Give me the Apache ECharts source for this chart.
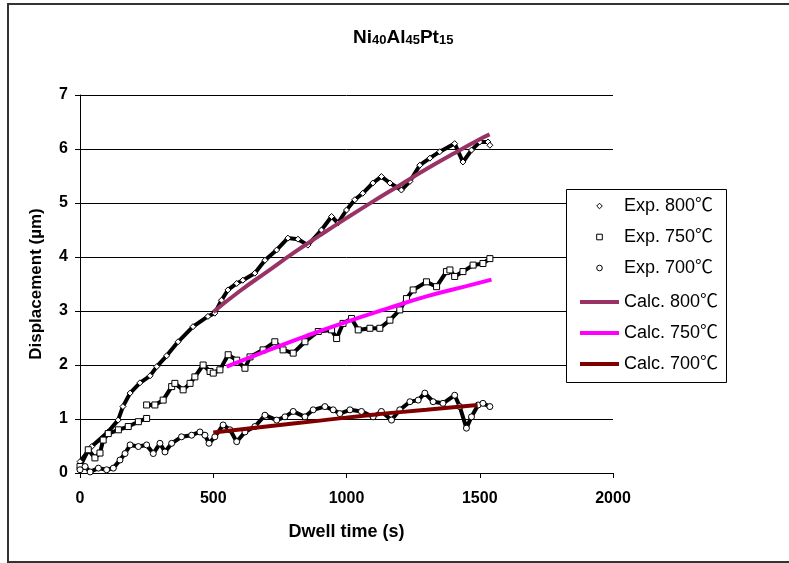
<!DOCTYPE html>
<html>
<head>
<meta charset="utf-8">
<script src="https://cdn.jsdelivr.net/npm/echarts@6/dist/echarts.min.js"></script>
<style>html,body{margin:0;padding:0;background:#fff}#chart{width:789px;height:563px}</style>
</head>
<body>
<div id="chart"></div>
<script>
// dwell time (s) / displacement (um)
var exp800T = [0,44,105,143,161,188,225,263,288,325,368,424,480,506,531,555,588,611,656,694,738,780,818,855,906,944,968,1000,1031,1061,1099,1131,1163,1206,1238,1275,1313,1350,1406,1437,1469,1500,1531,1538];
var exp800V = [0.21,0.49,0.76,0.98,1.23,1.48,1.67,1.80,1.97,2.17,2.43,2.71,2.90,2.96,3.20,3.39,3.51,3.57,3.70,3.94,4.13,4.35,4.33,4.22,4.50,4.75,4.63,4.87,5.06,5.18,5.37,5.49,5.37,5.24,5.40,5.70,5.83,5.95,6.10,5.76,5.98,6.13,6.13,6.07];

// 750 has two pieces (jump near 250 s)
var exp750aT = [0,31,56,75,87,106,144,181,219,250];
var exp750aV = [0.12,0.43,0.28,0.37,0.61,0.73,0.80,0.86,0.95,1.01];
var exp750bT = [250,281,312,344,356,387,413,431,462,488,500,525,556,588,619,638,687,731,762,800,844,894,944,963,987,1019,1044,1088,1125,1163,1200,1225,1250,1300,1338,1375,1388,1406,1437,1475,1512,1538];
var exp750bV = [1.26,1.26,1.35,1.60,1.66,1.54,1.66,1.78,2.00,1.88,1.85,1.91,2.19,2.09,1.94,2.15,2.28,2.43,2.28,2.22,2.43,2.62,2.65,2.49,2.77,2.86,2.65,2.68,2.68,2.83,3.02,3.23,3.39,3.54,3.45,3.73,3.76,3.64,3.73,3.85,3.88,3.97];

var exp700T = [0,19,38,69,100,125,150,169,188,219,250,275,300,319,344,381,419,450,469,484,506,537,563,588,619,656,694,738,769,800,844,875,919,950,975,1013,1056,1100,1131,1169,1200,1238,1269,1294,1325,1362,1406,1425,1450,1469,1494,1512,1538];
var exp700V = [0.06,0.12,0.02,0.09,0.06,0.09,0.24,0.36,0.52,0.49,0.52,0.36,0.55,0.39,0.55,0.67,0.70,0.76,0.70,0.55,0.67,0.89,0.80,0.58,0.76,0.86,1.07,0.98,1.04,1.14,1.04,1.17,1.23,1.17,1.10,1.17,1.14,1.04,1.14,0.98,1.17,1.32,1.35,1.48,1.32,1.29,1.44,1.23,0.83,1.04,1.26,1.29,1.23];

var calc800T = [500,600,700,800,900,1000,1100,1200,1300,1400,1500,1537];
var calc800V = [2.98,3.37,3.72,4.07,4.40,4.72,5.03,5.33,5.63,5.91,6.18,6.27];
var calc750T = [550,700,850,1000,1150,1300,1450,1544];
var calc750V = [1.97,2.26,2.54,2.80,3.04,3.27,3.46,3.58];
var calc700T = [500,700,900,1100,1300,1492];
var calc700V = [0.75,0.86,0.97,1.08,1.17,1.26];

var font = 'Liberation Sans, Arial, sans-serif';
var legendFont = 'Liberation Sans, Noto Sans CJK SC, sans-serif';

function pairs(t, v) {
  return t.map(function (x, i) { return [x, v[i]]; });
}

var exp750 = pairs(exp750aT, exp750aV).concat([[250, '-']], pairs(exp750bT, exp750bV));

function expSeries(name, symbol, data) {
  return {
    name: name, type: 'line', data: data,
    symbol: symbol, symbolSize: 6, showAllSymbol: true,
    itemStyle: { color: '#fff', borderColor: '#000', borderWidth: 1 },
    lineStyle: { color: '#000', width: 4 },
    z: 3
  };
}
function calcSeries(name, color, data) {
  return {
    name: name, type: 'line', data: data, smooth: true, symbol: 'none',
    itemStyle: { color: color },
    lineStyle: { color: color, width: 4 },
    z: 4
  };
}

var myChart = echarts.init(document.getElementById('chart'));
var option = {
  animation: false,
  backgroundColor: '#fff',
  title: {
    text: '{b|Ni}{s|40}{b|Al}{s|45}{b|Pt}{s|15}',
    left: 353, top: 25, padding: 0,
    textStyle: {
      rich: {
        b: { fontSize: 19, fontWeight: 'bold', fontFamily: font, color: '#000', lineHeight: 22, verticalAlign: 'bottom' },
        s: { fontSize: 13, fontWeight: 'bold', fontFamily: font, color: '#000', lineHeight: 10, verticalAlign: 'bottom' }
      }
    }
  },
  grid: { left: 80, right: 176, top: 95, bottom: 90 },
  xAxis: {
    type: 'value', min: 0, max: 2000, interval: 500,
    name: 'Dwell time (s)', nameLocation: 'middle', nameGap: 50,
    nameTextStyle: { fontSize: 18, fontWeight: 'bold', fontFamily: font, color: '#000' },
    axisLine: { lineStyle: { color: '#000', width: 1 } },
    axisTick: { show: true, length: 5, lineStyle: { color: '#000' } },
    axisLabel: { fontSize: 16, fontWeight: 'bold', fontFamily: font, color: '#000', margin: 18,
      formatter: function (v) { return String(v); } },
    splitLine: { show: false }
  },
  yAxis: {
    type: 'value', min: 0, max: 7, interval: 1,
    name: 'Displacement (µm)', nameLocation: 'middle', nameGap: 35,
    nameTextStyle: { fontSize: 17, fontWeight: 'bold', fontFamily: font, color: '#000' },
    axisLine: { show: true, lineStyle: { color: '#000', width: 1 } },
    axisTick: { show: true, length: 5, lineStyle: { color: '#000' } },
    axisLabel: { fontSize: 16, fontWeight: 'bold', fontFamily: font, color: '#000', margin: 12 },
    splitLine: { show: true, lineStyle: { color: '#000', width: 1 } }
  },
  legend: [
    {
      // series icon: hide its line, keep only the marker
      data: ['Exp. 800℃', 'Exp. 750℃', 'Exp. 700℃'],
      orient: 'vertical', left: 580, top: 196, padding: 0,
      itemWidth: 39, itemHeight: 7, itemGap: 11, selectedMode: false,
      lineStyle: { opacity: 0, width: 0 },
      itemStyle: { color: '#fff', borderColor: '#000', borderWidth: 1 },
      textStyle: { fontSize: 18, lineHeight: 20, color: '#000', fontFamily: legendFont },
      z: 10
    },
    {
      data: [{ name: 'Calc. 800℃', icon: 'rect' }, { name: 'Calc. 750℃', icon: 'rect' }, { name: 'Calc. 700℃', icon: 'rect' }],
      orient: 'vertical', left: 580, top: 292, padding: 0,
      itemWidth: 39, itemHeight: 4, itemGap: 11, selectedMode: false,
      itemStyle: { borderWidth: 0 },
      textStyle: { fontSize: 18, lineHeight: 20, color: '#000', fontFamily: legendFont },
      z: 10
    }
  ],
  graphic: [
    { type: 'rect', shape: { x: 8, y: 4, width: 820, height: 558 }, style: { fill: 'none', stroke: '#333', lineWidth: 2 }, z: 1 },
    { type: 'rect', shape: { x: 566.5, y: 189.5, width: 160, height: 193 }, style: { fill: '#fff', stroke: '#000', lineWidth: 1 }, z: 5 }
  ],
  series: [
    expSeries('Exp. 800℃', 'diamond', pairs(exp800T, exp800V)),
    expSeries('Exp. 750℃', 'rect', exp750),
    expSeries('Exp. 700℃', 'circle', pairs(exp700T, exp700V)),
    calcSeries('Calc. 800℃', '#993366', pairs(calc800T, calc800V)),
    calcSeries('Calc. 750℃', '#ff00ff', pairs(calc750T, calc750V)),
    calcSeries('Calc. 700℃', '#800000', pairs(calc700T, calc700V))
  ]
};
myChart.setOption(option);
</script>
</body>
</html>
